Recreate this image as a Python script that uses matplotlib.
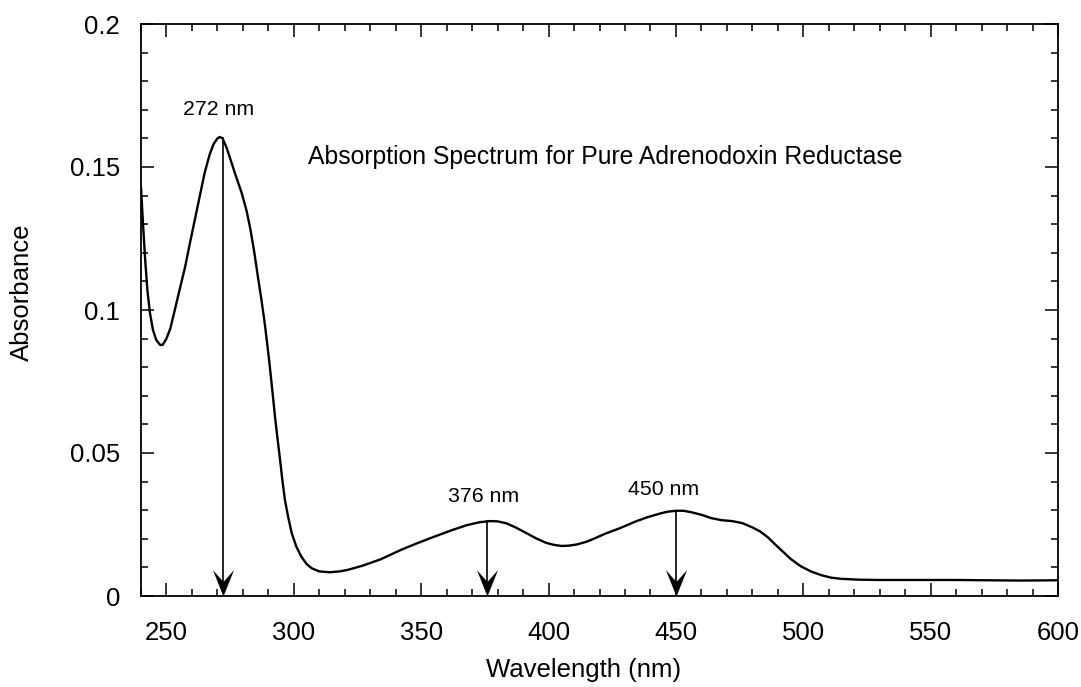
import numpy as np
import matplotlib
matplotlib.use("Agg")
import matplotlib.pyplot as plt
from matplotlib.path import Path
from matplotlib.ticker import MultipleLocator

# ---- data ----
wavelength = [240, 240.8, 241.6, 242.5, 243.5, 244.7, 246, 247.5, 248.5, 250, 251.5,
              253, 255, 257.3, 259, 261, 263, 265, 267, 268.5, 270, 271, 272, 273.5,
              275, 277, 279.5, 281.5, 283, 284.5, 286, 287.3, 288.7, 289.7, 290.6,
              291.6, 292.6, 293.6, 294.6, 295.5, 296.5, 297.8, 299.2, 301, 303, 305,
              307, 310, 314, 318, 321, 327, 334, 342, 348, 355, 362, 368, 373, 377,
              380, 383.5, 387, 391.5, 395, 399, 402, 405, 408, 411, 415, 418, 422,
              428, 434, 439, 444, 447, 450, 453, 456, 460, 464, 468, 472, 476, 480,
              483, 486, 489, 492, 495, 499, 503, 507, 511, 515, 522, 530, 560, 585,
              600]
absorbance = [0.143, 0.130, 0.118, 0.107, 0.099, 0.093, 0.0895, 0.0878, 0.0878, 0.0900,
              0.0935, 0.0990, 0.1065, 0.115, 0.1225, 0.131, 0.1395, 0.1480, 0.1545,
              0.1580, 0.1600, 0.1605, 0.1600, 0.1570, 0.1530, 0.1475, 0.1410, 0.1345,
              0.1280, 0.1200, 0.1110, 0.1035, 0.0945, 0.0870, 0.0800, 0.0715, 0.0627,
              0.0550, 0.0476, 0.0405, 0.0336, 0.0275, 0.0219, 0.0172, 0.0137, 0.0112,
              0.0097, 0.0086, 0.0083, 0.0086, 0.0091, 0.0106, 0.0128, 0.0161, 0.0183,
              0.0207, 0.0230, 0.0248, 0.0258, 0.0262, 0.0261, 0.0254, 0.0240, 0.0219,
              0.0202, 0.0186, 0.0179, 0.0175, 0.0176, 0.0180, 0.0190, 0.0201, 0.0217,
              0.0237, 0.0260, 0.0276, 0.0289, 0.0295, 0.0298, 0.0298, 0.0293, 0.0284,
              0.0272, 0.0265, 0.0262, 0.0255, 0.0240, 0.0226, 0.0206, 0.0180, 0.0155,
              0.0130, 0.0104, 0.0086, 0.0073, 0.0064, 0.0060, 0.0057, 0.0056, 0.0056,
              0.0054, 0.0055]

peak_positions = [272, 376, 450]
peak_labels = ["272 nm", "376 nm", "450 nm"]
label_x = [270.3, 374.5, 445.1]
label_y = [0.170, 0.0347, 0.0372]

title_text = "Absorption Spectrum for Pure Adrenodoxin Reductase"
x_label = "Wavelength (nm)"
y_label = "Absorbance"
x_ticks = [250, 300, 350, 400, 450, 500, 550, 600]
y_ticks = [0, 0.05, 0.1, 0.15, 0.2]
y_ticklabels = ["0", "0.05", "0.1", "0.15", "0.2"]

plt.rcParams['font.family'] = ['Liberation Sans', 'DejaVu Sans']

fig = plt.figure(figsize=(10.81, 6.87), dpi=100)
ax = fig.add_axes([141/1081, 91/687, 917/1081, 572/687])

ax.plot(wavelength, absorbance, color='black', lw=1.7,
        solid_joinstyle='round', solid_capstyle='round')

# arrows
head = Path([(0, 0), (-0.40, 1.0), (0, 0.55), (0.40, 1.0), (0, 0)],
            [Path.MOVETO, Path.LINETO, Path.LINETO, Path.LINETO, Path.CLOSEPOLY])
for px in peak_positions:
    top = np.interp(px, wavelength, absorbance)
    ax.plot([px, px], [top, 0.002], color='black', lw=1.2)
    ax.plot([px], [0], marker=head, markersize=38, color='black',
            markeredgewidth=0, clip_on=False)

for lx, ly, t in zip(label_x, label_y, peak_labels):
    ax.text(lx, ly, t, ha='center', va='center', fontsize=15.3)

ax.text(422.4, 0.1535, title_text, ha='center', va='center', fontsize=17.8)

ax.set_xlim(240, 600)
ax.set_ylim(0, 0.2)
ax.set_xticks(x_ticks)
ax.set_yticks(y_ticks)
ax.set_yticklabels(y_ticklabels)
ax.xaxis.set_minor_locator(MultipleLocator(10))
ax.yaxis.set_minor_locator(MultipleLocator(0.01))
ax.tick_params(which='both', direction='in', top=True, right=True, width=1.1,
               labelsize=18.5, color='black')
ax.tick_params(axis='x', which='major', length=9.5, pad=18)
ax.tick_params(axis='y', which='major', length=9.5, pad=15)
ax.tick_params(which='minor', length=5.2)
for s in ax.spines.values():
    s.set_linewidth(1.3)

ax.set_xlabel(x_label, fontsize=18.5)
ax.set_ylabel(y_label, fontsize=18.5)
ax.xaxis.set_label_coords(0.483, -0.109)
ax.yaxis.set_label_coords(-0.117, 0.531)

fig.savefig("out.png", dpi=100)
